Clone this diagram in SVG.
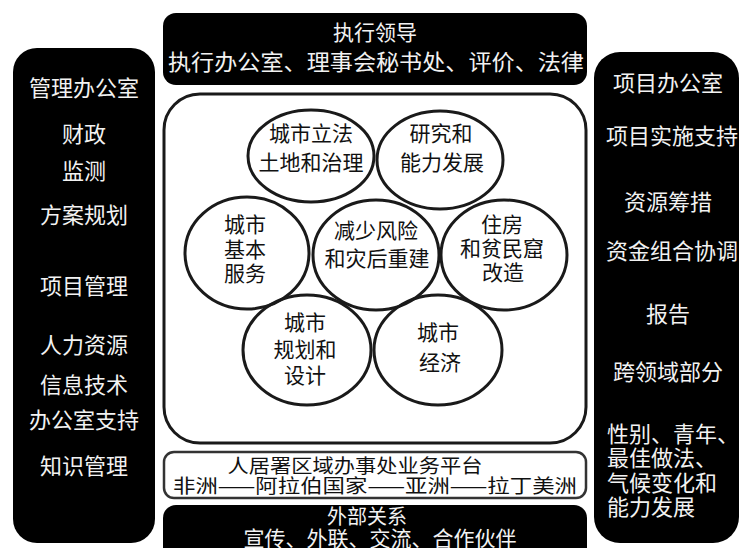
<svg xmlns="http://www.w3.org/2000/svg" width="741" height="548" viewBox="0 0 741 548">
<style>
text{font-family:"Noto Sans CJK SC","Noto Sans CJK TC",sans-serif;text-anchor:middle}
text.st{text-anchor:start}
.blk{fill:#000}
.wt{fill:#f2f2f2}
.dk{fill:#111}
.c{fill:none;stroke:#1a1a1a;stroke-width:3}
</style>
<rect width="741" height="548" fill="#fff"/>
<g id="exec">
<rect class="blk" x="163" y="13" width="424" height="72" rx="13"/>
<text class="wt" x="375" y="40" font-size="21">执行领导</text>
<text class="wt" x="376" y="70" font-size="22" textLength="416" lengthAdjust="spacingAndGlyphs">执行办公室、理事会秘书处、评价、法律</text>
</g>
<g id="mgmt">
<rect class="blk" x="13" y="48" width="142" height="495" rx="24"/>
<g class="wt" font-size="22">
<text x="84" y="96">管理办公室</text>
<text x="84" y="142">财政</text>
<text x="84" y="179">监测</text>
<text x="84" y="223">方案规划</text>
<text x="84" y="294">项目管理</text>
<text x="84" y="353">人力资源</text>
<text x="84" y="393">信息技术</text>
<text x="84" y="428">办公室支持</text>
<text x="84" y="474">知识管理</text>
</g>
</g>
<g id="prog">
<rect class="blk" x="594" y="52" width="145" height="491" rx="26"/>
<g class="wt" font-size="22">
<text x="668" y="91">项目办公室</text>
<text x="672" y="144">项目实施支持</text>
<text x="668" y="210">资源筹措</text>
<text x="672" y="259">资金组合协调</text>
<text x="668" y="322">报告</text>
<text x="668" y="380">跨领域部分</text>
<text class="st" x="607" y="442">性别、青年、</text>
<text class="st" x="607" y="466">最佳做法、</text>
<text class="st" x="607" y="491">气候变化和</text>
<text class="st" x="607" y="515">能力发展</text>
</g>
</g>
<g id="core">
<rect x="164" y="94" width="422" height="349" rx="36" fill="none" stroke="#1a1a1a" stroke-width="3"/>
</g>
<g id="circles" font-size="21">
<g id="c-legis"><ellipse class="c" cx="311" cy="156" rx="63" ry="46"/>
<text class="dk" x="311" y="141">城市立法</text>
<text class="dk" x="311" y="170">土地和治理</text></g>
<g id="c-research"><ellipse class="c" cx="440" cy="160" rx="63" ry="49"/>
<text class="dk" x="441" y="141">研究和</text>
<text class="dk" x="442" y="170">能力发展</text></g>
<g id="c-basic"><ellipse class="c" cx="247" cy="253" rx="62" ry="56"/>
<text class="dk" x="245" y="232">城市</text>
<text class="dk" x="245" y="257">基本</text>
<text class="dk" x="245" y="281">服务</text></g>
<g id="c-risk"><ellipse class="c" cx="376" cy="255" rx="63" ry="55"/>
<text class="dk" x="376" y="238">减少风险</text>
<text class="dk" x="377" y="266">和灾后重建</text></g>
<g id="c-housing"><ellipse class="c" cx="504" cy="255" rx="63" ry="55"/>
<text class="dk" x="502" y="232">住房</text>
<text class="dk" x="502" y="256">和贫民窟</text>
<text class="dk" x="503" y="280">改造</text></g>
<g id="c-planning"><ellipse class="c" cx="307" cy="350" rx="64" ry="55"/>
<text class="dk" x="305" y="330">城市</text>
<text class="dk" x="305" y="357">规划和</text>
<text class="dk" x="305" y="383">设计</text></g>
<g id="c-economy"><ellipse class="c" cx="438" cy="350" rx="64" ry="55"/>
<text class="dk" x="438" y="340">城市</text>
<text class="dk" x="440" y="370">经济</text></g>
</g>
<g id="regional">
<rect x="164" y="452" width="422" height="46" rx="10" fill="#fff" stroke="#333" stroke-width="2.5"/>
<text class="dk" x="355" y="473" font-size="19" textLength="255" lengthAdjust="spacingAndGlyphs">人居署区域办事处业务平台</text>
<text class="dk" x="375" y="493" font-size="19" textLength="404" lengthAdjust="spacingAndGlyphs">非洲——阿拉伯国家——亚洲——拉丁美洲</text>
</g>
<g id="external">
<rect class="blk" x="163" y="505" width="424" height="60" rx="13"/>
<text class="wt" x="367" y="524" font-size="20">外部关系</text>
<text class="wt" x="380" y="546" font-size="21">宣传、外联、交流、合作伙伴</text>
</g>
</svg>
